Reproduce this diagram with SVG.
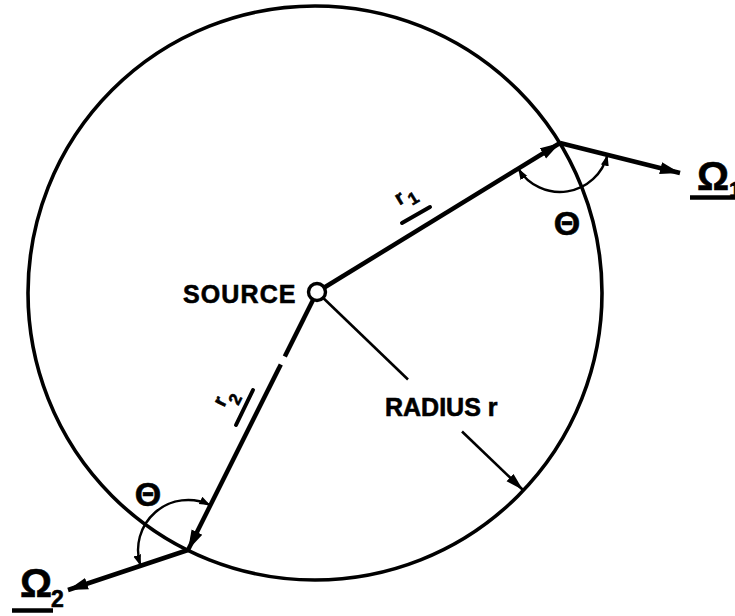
<svg xmlns="http://www.w3.org/2000/svg" width="735" height="616" viewBox="0 0 735 616">
<style>
.thick{stroke:#000;stroke-width:4.5;fill:none;stroke-linecap:butt}
.thin{stroke:#000;stroke-width:2.6;fill:none}
.arc{stroke:#000;stroke-width:2.4;fill:none}
.bar{stroke:#000;stroke-width:4;stroke-linecap:round}
.lbl{font-family:"Liberation Sans",Arial,sans-serif;font-weight:bold;fill:#000;stroke:#000;stroke-width:0.6}
</style>
<defs>
<marker id="ah" markerUnits="userSpaceOnUse" markerWidth="22" markerHeight="14" refX="20" refY="6.5" orient="auto">
<path d="M0,0.5 L20,6.5 L0,12.5 Z" fill="#000"/>
</marker>
<marker id="ahm" markerUnits="userSpaceOnUse" markerWidth="20" markerHeight="12" refX="18" refY="5" orient="auto">
<path d="M0,0 L18,5 L0,10 Z" fill="#000"/>
</marker>
<marker id="ahs" markerUnits="userSpaceOnUse" markerWidth="13" markerHeight="10" refX="11" refY="4" orient="auto-start-reverse">
<path d="M0,0 L11,4 L0,8 Z" fill="#000"/>
</marker>
</defs>
<g id="boundary">
<circle cx="315" cy="293" r="287" fill="none" stroke="#000" stroke-width="3.6"/>
</g>
<g id="connectors">
<line class="thick" x1="317" y1="292" x2="560" y2="143" marker-end="url(#ah)"/>
<line class="thick" x1="560" y1="143" x2="680" y2="173" marker-end="url(#ah)"/>
<line class="thick" x1="317" y1="292" x2="284.8" y2="356.4"/>
<line class="thick" x1="280.8" y1="364.4" x2="188" y2="550" marker-end="url(#ah)"/>
<line class="thick" x1="188" y1="550" x2="68" y2="590" marker-end="url(#ah)"/>
<line class="thin" x1="317" y1="292" x2="408" y2="379.5"/>
<line class="thin" x1="462" y1="431.5" x2="523" y2="490" marker-end="url(#ahm)"/>
<path class="arc" d="M518.2,168.6 A49,49 0 0 0 607.5,154.9" marker-start="url(#ahs)" marker-end="url(#ahs)"/>
<path class="arc" d="M140.6,565.8 A50,50 0 0 1 210.4,505.3" marker-start="url(#ahs)" marker-end="url(#ahs)"/>
</g>
<g id="source">
<circle cx="317" cy="292" r="8.5" fill="#fff" stroke="#000" stroke-width="3.4"/>
<text class="lbl" x="183" y="303" font-size="25" letter-spacing="1.1">SOURCE</text>
</g>
<g id="radius-label">
<text class="lbl" x="385" y="416" font-size="25">RADIUS r</text>
</g>
<g id="r1-label">
<line class="bar" x1="402" y1="223" x2="430" y2="207"/>
<text class="lbl" font-size="20" text-anchor="middle" dy="0.26em" transform="translate(400,199) rotate(-31.5)">r</text>
<text class="lbl" font-size="17" text-anchor="middle" dy="0.36em" transform="translate(413,198) rotate(-31.5)">1</text>
</g>
<g id="r2-label">
<line class="bar" x1="253" y1="390" x2="236" y2="425"/>
<text class="lbl" font-size="20" text-anchor="middle" dy="0.26em" transform="translate(221,402) rotate(-63.4)">r</text>
<text class="lbl" font-size="17" text-anchor="middle" dy="0.36em" transform="translate(235,399) rotate(-63.4)">2</text>
</g>
<g id="theta1">
<text class="lbl" x="567" y="223" font-size="34" text-anchor="middle" dy="0.36em">Θ</text>
</g>
<g id="theta2">
<text class="lbl" x="148" y="494" font-size="34" text-anchor="middle" dy="0.36em">Θ</text>
</g>
<g id="omega1">
<text class="lbl" x="697" y="190" font-size="40">Ω</text>
<text class="lbl" x="729" y="197" font-size="22">1</text>
<line x1="690" y1="197.5" x2="735" y2="197.5" stroke="#000" stroke-width="4.5"/>
</g>
<g id="omega2">
<text class="lbl" x="20" y="597" font-size="40">Ω</text>
<text class="lbl" x="51" y="607" font-size="23">2</text>
<line x1="12" y1="610.5" x2="53" y2="610.5" stroke="#000" stroke-width="4.5"/>
</g>
</svg>
